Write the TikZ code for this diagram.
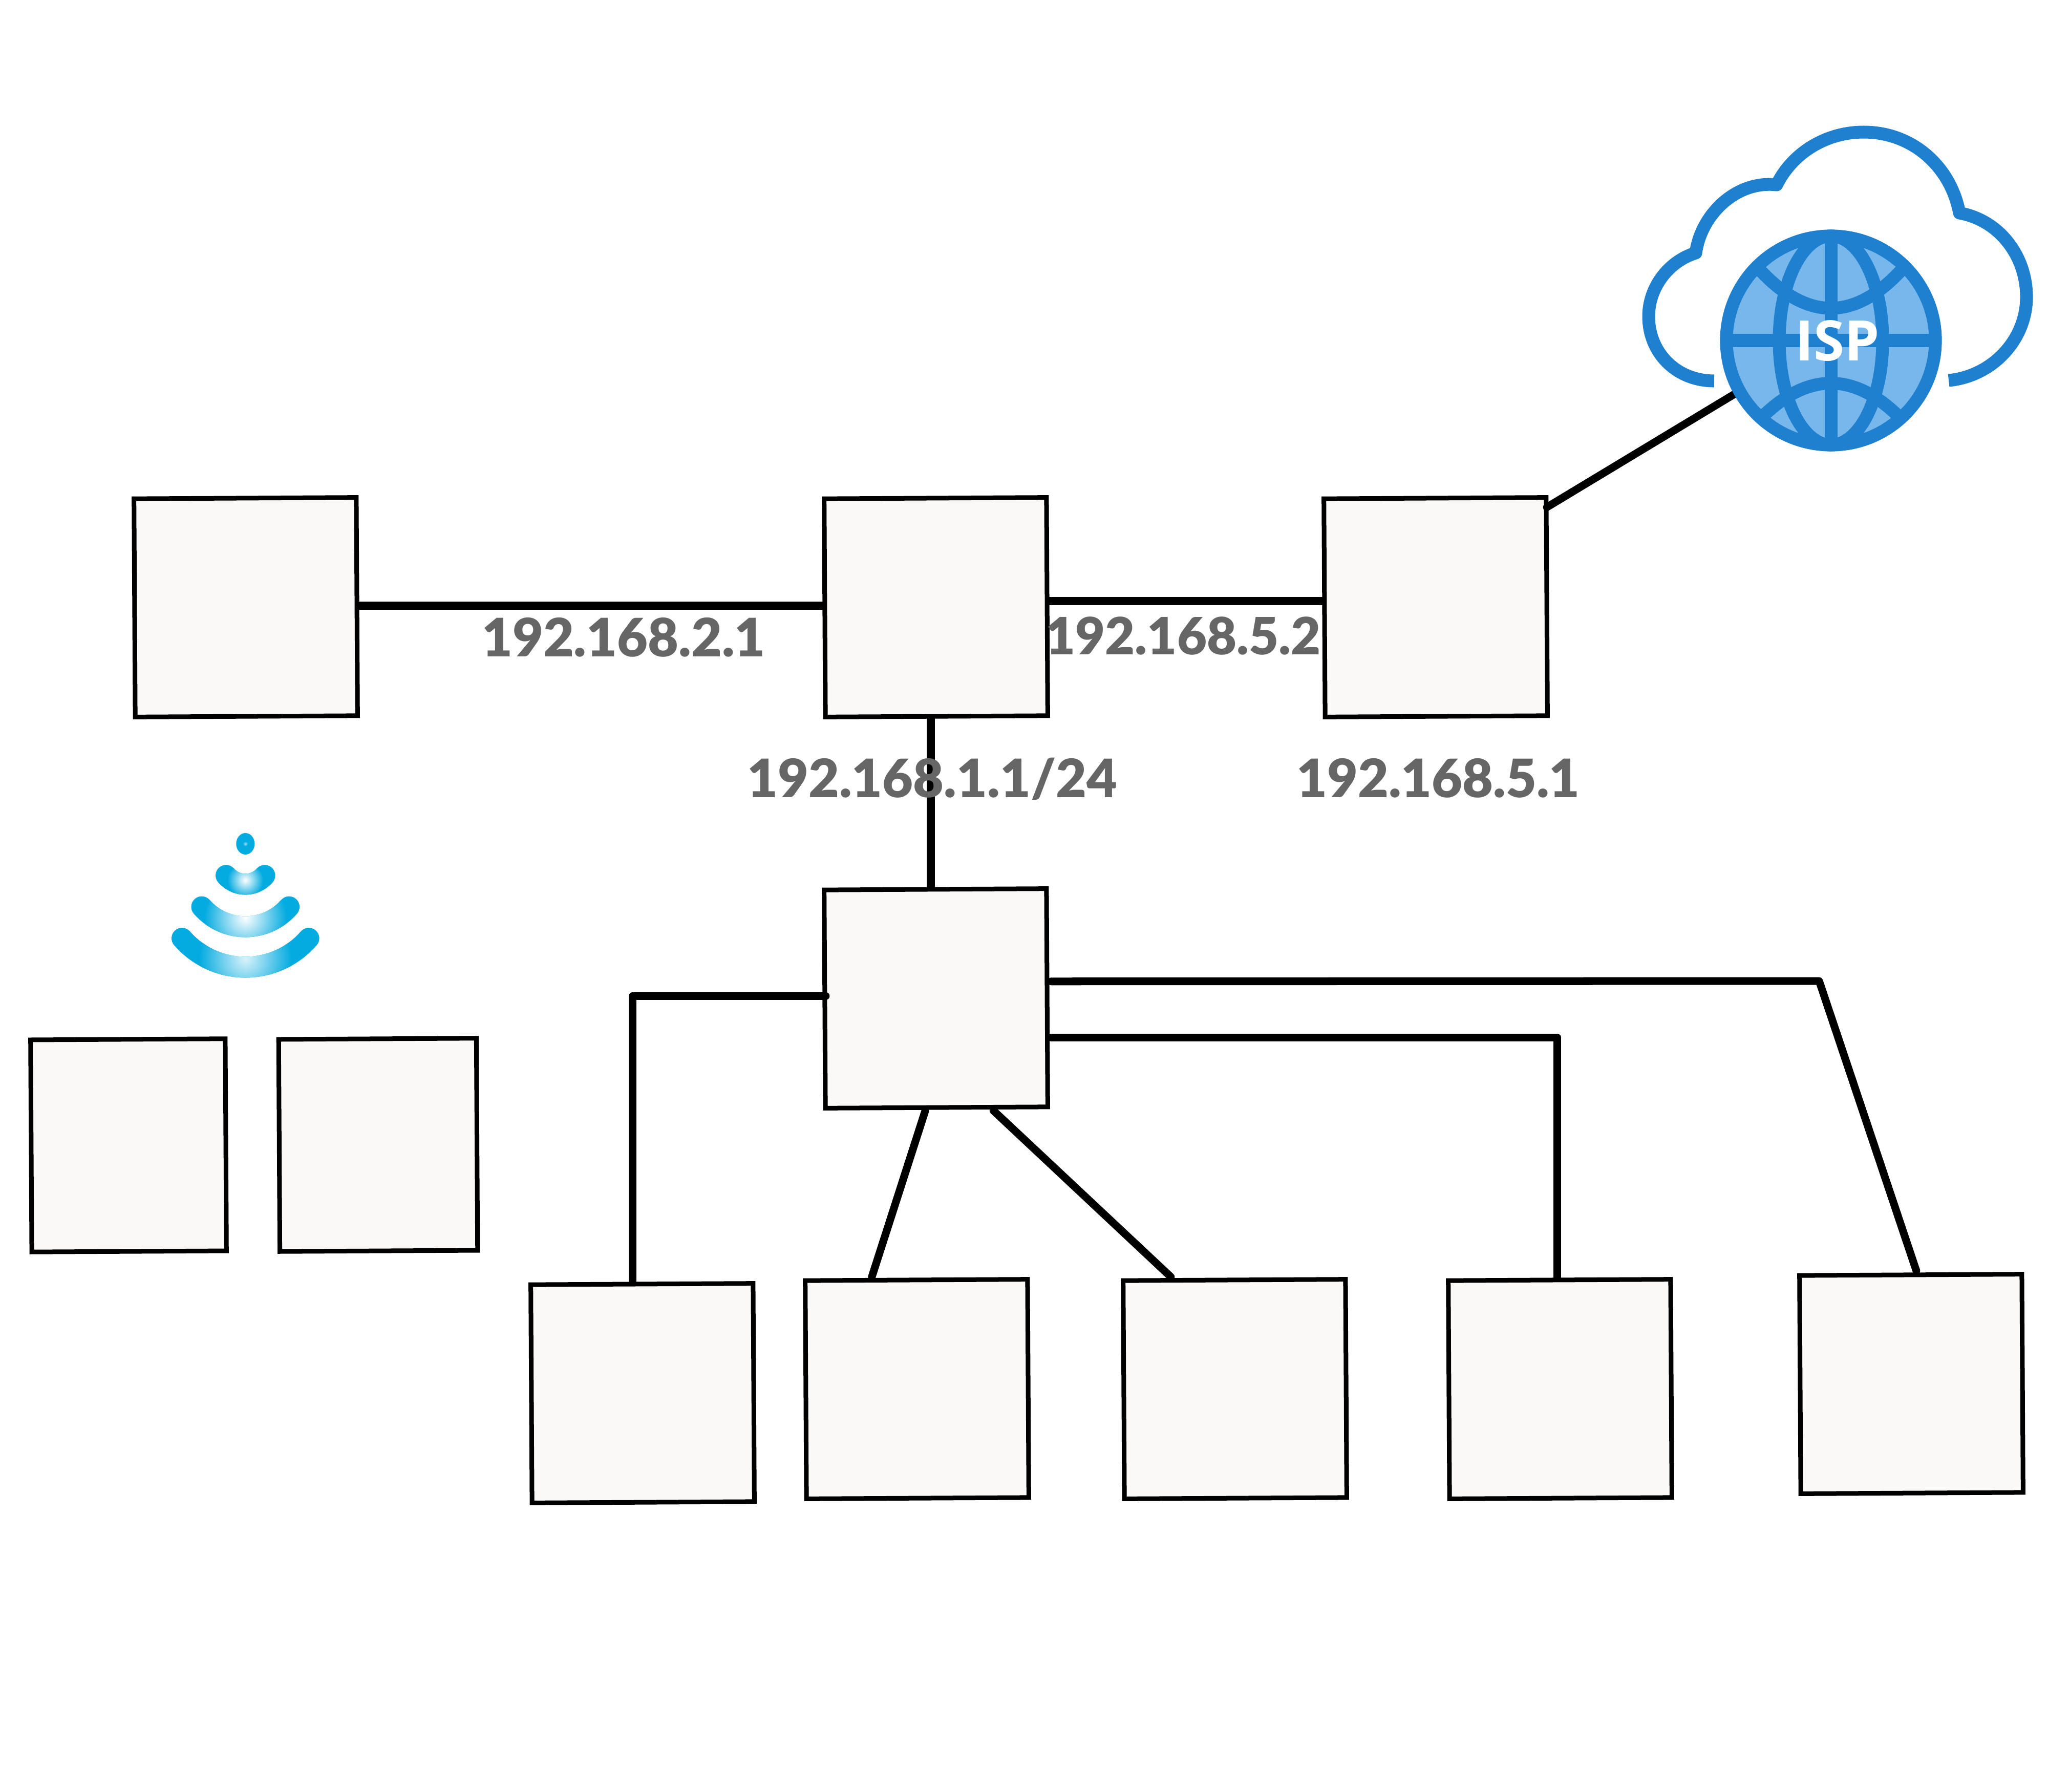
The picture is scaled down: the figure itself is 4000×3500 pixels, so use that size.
\documentclass[tikz,border=0pt]{standalone}
\usepackage{fontspec}
\setmainfont{Lato}[BoldFont={Lato Black}]
\newfontfamily\ispfont{Open Sans}
\usetikzlibrary{calc}

\definecolor{boxfill}{HTML}{FAF9F7}
\definecolor{labelgray}{HTML}{666666}
\definecolor{ispblue}{HTML}{1F80CF}
\definecolor{globefill}{HTML}{78B7EB}
\definecolor{wifiblue}{HTML}{04ABE0}

\tikzset{
  devbox/.style={draw=black,fill=boxfill,line width=0.9mm,rotate=0.33,outer sep=0pt,inner sep=0pt,minimum width=4.34cm,minimum height=4.26cm},
  smallbox/.style={devbox,minimum width=3.8cm,minimum height=4.14cm},
  wire/.style={draw=black,line width=1.6mm},
  thinwire/.style={draw=black,line width=1.5mm,line cap=round,line join=round},
  iplabel/.style={anchor=base,text=labelgray,font=\bfseries\fontsize{29.4}{31}\selectfont,inner sep=0pt},
  ispline/.style={draw=ispblue,line width=2.5mm}
}

\begin{document}
\begin{tikzpicture}[x=0.01cm,y=-0.01cm]
  \useasboundingbox (0,0) rectangle (4000,3500);

  % routers
  \node[devbox] (wan) at (480,1186) {};
  \node[devbox] (core) at (1828,1186) {};
  \node[devbox] (edge) at (2804,1186) {};
  \node[devbox] (switch) at (1828,1950) {};

  % wireless clients
  \node[smallbox] (wifia) at (251,2237) {};
  \node[smallbox,minimum width=3.86cm] (wifib) at (738.5,2236) {};

  % wired clients
  \foreach \name/\x/\y in {pca/1255/2721,pcb/1791/2713,pcc/2412/2713,pcd/3047/2713,pce/3733/2703}
  \node[devbox] (\name) at (\x,\y) {};

  \coordinate (ispin) at (3392,767);
  \coordinate (bend) at (3553,1916);

  % links
  \draw[wire] ($(wan.east |- core.west)+(0,-4)$) -- ($(core.west)+(0,-4)$);
  \draw[wire] ($(core.east |- edge.west)+(0,-13)$) -- ($(edge.west)+(0,-13)$);
  \draw[wire] ($(switch.north |- core.south)+(-9,0)$) -- ($(switch.north)+(-9,0)$);
  \draw[thinwire] ($(edge.east)+(0,-194)$) -- (ispin);

  \draw[thinwire] ($(pca.north)+(-18,-6)$) |- ($(switch.west)+(2,-6)$);
  \draw[thinwire] ($(switch.south)+(-22,6)$) -- ($(pcb.north)+(-87,-6)$);
  \draw[thinwire] ($(switch.south)+(111,6)$) -- ($(pcc.north)+(-124,-6)$);
  \draw[thinwire] ($(switch.east)+(8,78)$) -| ($(pcd.north)+(-4,-6)$);
  \draw[thinwire] ($(switch.east)+(8,-32)$) -- (bend) -- ($(pce.north)+(11,-8)$);

  % addresses
  \node[iplabel] (ipwan) at (1218,1282) {192.168.2.1};
  \node[iplabel,font=\bfseries\fontsize{28.5}{30}\selectfont] (ipedge) at (2311,1278) {192.168.5.2};
  \node[iplabel] (ipcore) at (1821,1557) {192.168.1.1/24};
  \node[iplabel] (ipisp) at (2809,1557) {192.168.5.1};

  % cloud
  \draw[ispline,line join=round] (3348,744) .. controls (3275,744) and (3220,690) .. (3220,618)
    .. controls (3220,560) and (3260,510) .. (3312,494)
    .. controls (3322,420) and (3390,352) .. (3470,361)
    .. controls (3500,300) and (3565,258) .. (3640,258)
    .. controls (3735,258) and (3810,325) .. (3827,416)
    .. controls (3905,430) and (3958,500) .. (3958,580)
    .. controls (3958,665) and (3890,735) .. (3806,743);

  % globe
  \filldraw[ispline,fill=globefill] (3576,665) circle (2.04cm);
  \draw[ispline] (3576,665) ellipse (1.01cm and 2.04cm);
  \draw[ispline] (3576,461) -- (3576,869);
  \draw[ispline] (3372,665) -- (3780,665);
  \draw[ispline] (3437,527) .. controls (3530,627) and (3622,627) .. (3714,527);
  \draw[ispline] (3443,813) .. controls (3532,727) and (3620,727) .. (3708,813);
  \node[anchor=base,text=white,inner sep=0pt,font=\ispfont\bfseries\fontsize{31}{33}\selectfont] (isp) at (3589,704) {ISP};

  % wifi
  \fill[wifiblue] (479.3,1648) ellipse (0.18cm and 0.21cm);
  \shade[inner color=white!60!wifiblue,outer color=wifiblue] (479.3,1648) circle (0.05cm);
  \foreach \cy/\rad/\hy/\hr/\hc in {1725/164/1872/0.9/85,1697/113/1792/0.8/100,1677/50/1719/0.35/100}
  {
    \begin{scope}[shift={(479.3,\cy)}]
      \draw[wifiblue,line width=4.1mm,line cap=round] plot[smooth,domain=41:139,samples=30] (\x:\rad);
      \clip plot[domain=41:139,samples=30] (\x:{\rad+20.5}) -- plot[domain=139:41,samples=30] (\x:{\rad-20.5}) -- cycle;
      \shade[inner color=white!\hc!wifiblue,outer color=wifiblue] (0,\hy-\cy) circle (\hr cm);
    \end{scope}
  }
\end{tikzpicture}
\end{document}
